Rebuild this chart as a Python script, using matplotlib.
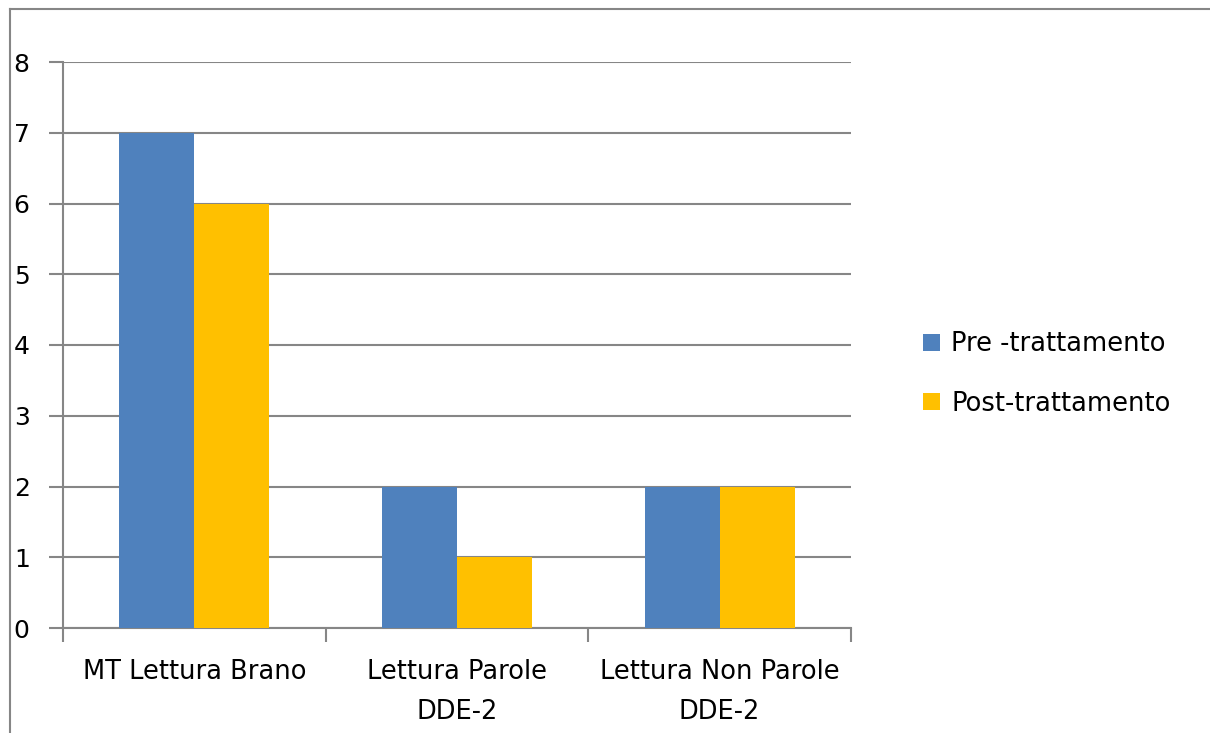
import matplotlib.pyplot as plt
import numpy as np
from matplotlib.lines import Line2D

categories = ["MT Lettura Brano", "Lettura Parole\nDDE-2", "Lettura Non Parole\nDDE-2"]
pre_values = [7, 2, 2]
post_values = [6, 1, 2]
series_labels = ["Pre -trattamento", "Post-trattamento"]

plt.rcParams['font.family'] = ['DejaVu Sans']

fig = plt.figure(figsize=(12.1, 7.33), dpi=100)
ax = fig.add_axes([63 / 1210, 1 - 628 / 733, (851 - 63) / 1210, (628 - 62) / 733])

grid_col = '#868686'
x = np.arange(len(categories))
w = 0.285
ax.bar(x - w / 2, pre_values, w, color='#4F81BD', label=series_labels[0], zorder=3)
ax.bar(x + w / 2, post_values, w, color='#FFC000', label=series_labels[1], zorder=3)

ax.set_xlim(-0.5, len(categories) - 0.5)
ax.set_ylim(0, 8)
ax.set_yticks(range(0, 9))
ax.yaxis.grid(True, color=grid_col, linewidth=1.5, zorder=0)
ax.set_axisbelow(True)

# category labels at centres, boundary tick marks as minor ticks
ax.set_xticks(x)
ax.set_xticklabels(categories, fontsize=18.5, linespacing=1.7)
ax.tick_params(axis='x', which='major', length=0, pad=22)
ax.set_xticks(np.arange(-0.5, len(categories)), minor=True)
ax.tick_params(axis='x', which='minor', length=10, width=1.5, color=grid_col)
ax.tick_params(axis='y', length=10, width=1.5, color=grid_col, pad=14, labelsize=18)

for s in ['top', 'right']:
    ax.spines[s].set_visible(False)
for s in ['left', 'bottom']:
    ax.spines[s].set_color(grid_col)
    ax.spines[s].set_linewidth(1.5)

fig.legend(loc='center left', bbox_to_anchor=(900 / 1210, 1 - 374 / 733), frameon=False,
           fontsize=18.5, handlelength=0.65, handleheight=0.65, handletextpad=0.45,
           labelspacing=1.3)

# outer chart border (top and left visible)
fig.add_artist(Line2D([10 / 1210, 10 / 1210], [0, 1 - 9 / 733], color=grid_col, linewidth=1.5))
fig.add_artist(Line2D([10 / 1210, 1], [1 - 9 / 733, 1 - 9 / 733], color=grid_col, linewidth=1.5))

fig.savefig('out.png', dpi=100)
